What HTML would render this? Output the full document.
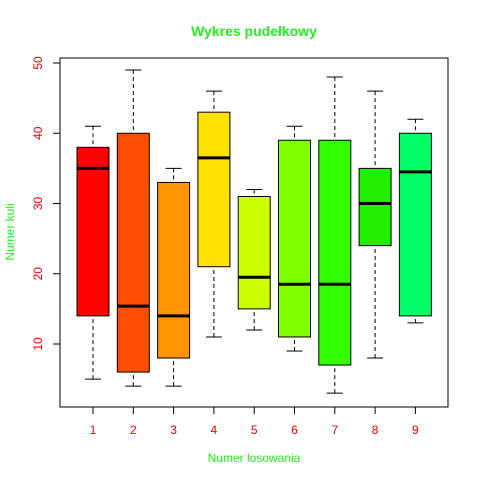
<!DOCTYPE html>
<html><head><meta charset="utf-8"><style>body{margin:0;background:#fff}svg{display:block;font-family:"Liberation Sans",sans-serif}</style></head>
<body>
<svg id="c" width="480" height="480">
<rect x="0" y="0" width="480" height="480" fill="#fff"/>
<text x="254" y="36" text-anchor="middle" font-size="14" font-weight="bold" fill="#22ee22">Wykres pudełkowy</text>
<text x="254" y="462" text-anchor="middle" font-size="12" fill="#22ee22">Numer losowania</text>
<text transform="translate(14,232) rotate(-90)" text-anchor="middle" font-size="12" fill="#22ee22">Numer kuli</text>
<rect x="60" y="58" width="388" height="349" fill="none" stroke="#000"/>
<g id="marks"></g>
</svg>
<script>
const categories=["1","2","3","4","5","6","7","8","9"];
const whiskerLow=[5,4,4,11,12,9,3,8,13];
const q1=[14,6,8,21,15,11,7,24,14];
const medians=[35,15.4,14,36.5,19.5,18.5,18.5,30,34.5];
const q3=[38,40,33,43,31,39,39,35,40];
const whiskerHigh=[41,49,35,46,32,41,48,46,42];
const colors=["#FF0000","#FF4D00","#FF9500","#FFE200","#CCFF00","#80FF00","#33FF00","#22EE00","#00FF66"];
const yTicks=[10,20,30,40,50];
const NS="http://www.w3.org/2000/svg";
const g=document.getElementById('marks');
const y=v=>344-(v-10)*7.025;
const x=i=>93+i*40.3;
function el(t,a){const e=document.createElementNS(NS,t);for(const k in a)e.setAttribute(k,a[k]);g.appendChild(e);return e;}
yTicks.forEach(v=>{
 const t=el('line',{x1:53,x2:60,y1:y(v),y2:y(v),stroke:'#000'});
 
 
 const l=el('text',{transform:`translate(42,${y(v)}) rotate(-90)`,'text-anchor':'middle','font-size':12,fill:'#e00'});
 l.textContent=v;
 
 
});
categories.forEach((c,i)=>{
 const cx=x(i),w=16;
 const t=el('line',{x1:cx,x2:cx,y1:407,y2:414,stroke:'#000'});
 
 
 const l=el('text',{x:cx,y:434,'text-anchor':'middle','font-size':12,fill:'#e00'});
 l.textContent=c;
 
 
 const wl=el('line',{x1:cx,x2:cx,y1:y(whiskerLow[i]),y2:y(q1[i]),stroke:'#000','stroke-dasharray':'4,3'});
 
 
 const wh=el('line',{x1:cx,x2:cx,y1:y(whiskerHigh[i]),y2:y(q3[i]),stroke:'#000','stroke-dasharray':'4,3'});
 
 
 const cl=el('line',{x1:cx-8,x2:cx+8,y1:y(whiskerLow[i]),y2:y(whiskerLow[i]),stroke:'#000'});
 
 
 const ch=el('line',{x1:cx-8,x2:cx+8,y1:y(whiskerHigh[i]),y2:y(whiskerHigh[i]),stroke:'#000'});
 
 
 const b=el('rect',{x:cx-w,y:y(q3[i]),width:2*w,height:y(q1[i])-y(q3[i]),fill:colors[i],stroke:'#000'});
 
 
 const m=el('line',{x1:cx-w,x2:cx+w,y1:y(medians[i]),y2:y(medians[i]),stroke:'#000','stroke-width':3});
 
 
});
</script>
</body></html>
